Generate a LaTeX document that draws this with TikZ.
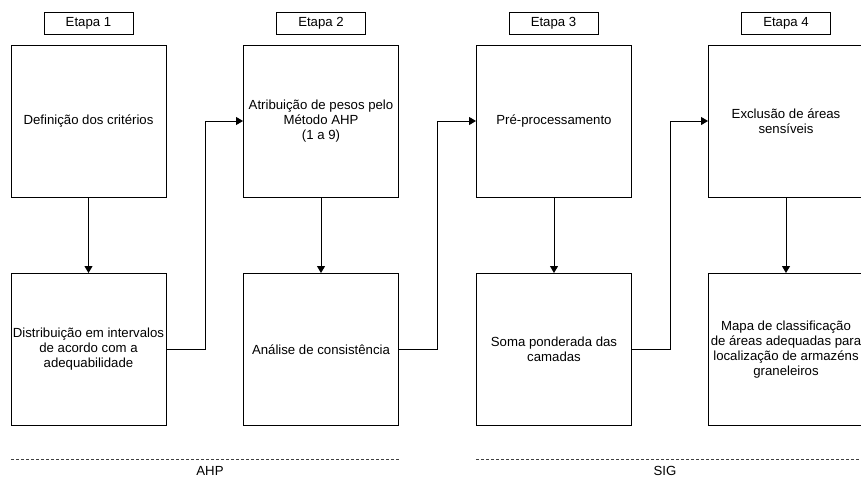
\documentclass[tikz,border=0pt]{standalone}
\usepackage{fontspec}
\setmainfont{Liberation Sans}
\usetikzlibrary{arrows.meta}

\begin{document}
\begin{tikzpicture}[x=1pt, y=-1pt, font=\fontsize{13.2}{15}\selectfont,
    etapa/.style={draw, line width=1pt, minimum width=89pt, minimum height=22pt, inner sep=0pt},
    passo/.style={draw, line width=1pt, minimum width=155pt, minimum height=152pt, inner sep=1pt, align=center},
    seta/.style={-{Triangle[length=7pt,width=8pt]}, line width=1pt},
    divisa/.style={dash pattern=on 3pt off 2pt, line width=0.9pt, black!75}]
\useasboundingbox (0,0) rectangle (861,479);

\foreach \i in {1,...,4}{
    \pgfmathsetmacro{\x}{88.5+232.5*(\i-1)}
    \node[etapa] (e\i) at (\x, 23) {Etapa \i};
}

\node[passo] (a1) at (88.5,121) {Definição dos critérios};
\node[passo] (a2) at (321,121) {Atribuição de pesos pelo\\Método AHP\\(1 a 9)};
\node[passo] (a3) at (554,121) {Pré-processamento};
\node[passo] (a4) at (786,121) {Exclusão de áreas\\sensíveis};

\node[passo] (b1) at (88.5,349.5) {Distribuição em intervalos\\de acordo com a\\adequabilidade};
\node[passo] (b2) at (321,349.5) {Análise de consistência};
\node[passo] (b3) at (554,349.5) {Soma ponderada das\\camadas};
\node[passo] (b4) at (786,349.5) {Mapa de classificação\\de áreas adequadas para\\localização de armazéns\\graneleiros};

\foreach \i in {1,...,4}{
    \draw[seta] (a\i.south) -- (b\i.north);
}

\foreach \u/\v in {1/2, 2/3, 3/4}{
    \draw[seta] (b\u.east) -- ++(38.5,0) |- (a\v.west);
}

\coordinate (ahpL) at (11,459);
\coordinate (ahpR) at (399,459);
\coordinate (sigL) at (476,459);
\coordinate (sigR) at (864,459);
\draw[divisa] (ahpL) -- (ahpR);
\draw[divisa] (sigL) -- (sigR);
\node (ahp) at (210,471) {AHP};
\node (sig) at (665,471) {SIG};

\end{tikzpicture}
\end{document}
